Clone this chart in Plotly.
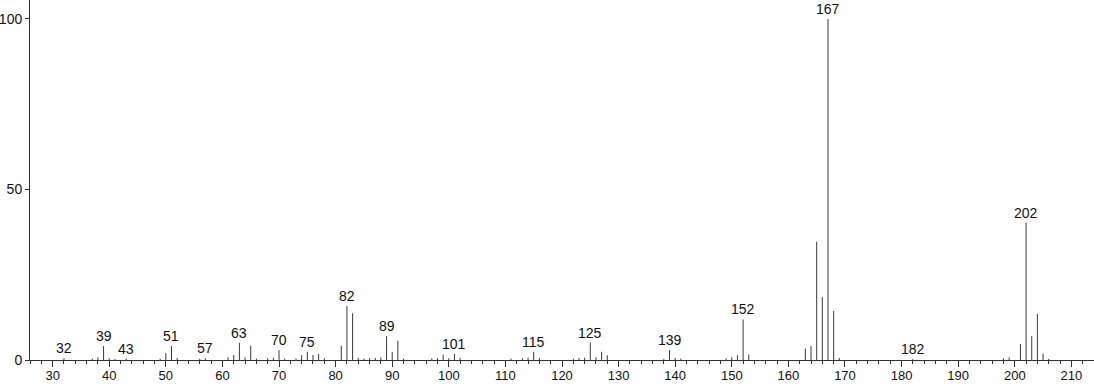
import plotly.graph_objects as go

mz = [32, 37, 38, 39, 40, 41, 43, 49, 50, 51, 52, 56, 57, 61, 62, 63, 64, 65, 66, 68, 69,
      70, 71, 73, 74, 75, 76, 77, 78, 81, 82, 83, 84, 85, 86, 87, 88, 89, 90, 91, 92,
      97, 98, 99, 100, 101, 102, 111, 113, 114, 115, 116, 122, 123, 124, 125, 126, 127, 128,
      138, 139, 140, 141, 149, 150, 151, 152, 153, 163, 164, 165, 166, 167, 168, 169,
      182, 198, 199, 201, 202, 203, 204, 205, 206]
intensity = [0.5, 0.4, 0.8, 4.1, 0.5, 0.3, 0.4, 0.4, 2.0, 4.1, 0.6, 0.4, 0.5, 0.8, 1.5, 5.1, 0.8, 4.2, 0.4, 0.5, 0.7,
             2.9, 0.4, 0.5, 1.4, 2.4, 1.5, 1.8, 0.5, 4.2, 15.8, 13.7, 0.6, 0.4, 0.5, 0.6, 0.8, 7.0, 2.4, 5.7, 0.4,
             0.5, 0.5, 1.6, 0.5, 1.8, 0.6, 0.4, 0.5, 0.7, 2.4, 0.6, 0.4, 0.6, 0.7, 5.1, 0.8, 2.4, 1.4,
             0.3, 2.9, 0.6, 0.4, 0.5, 0.8, 1.4, 11.9, 1.6, 3.4, 4.1, 34.7, 18.4, 100.0, 14.4, 0.6,
             0.3, 0.5, 0.8, 4.7, 40.3, 7.0, 13.5, 1.9, 0.3]
labeled = [32, 39, 43, 51, 57, 63, 70, 75, 82, 89, 101, 115, 125, 139, 152, 167, 182, 202]

xs, ys = [], []
for m, v in zip(mz, intensity):
    xs += [m, m, None]
    ys += [0, v, None]

fig = go.Figure()
fig.add_trace(go.Scatter(x=xs, y=ys, mode="lines",
                         line=dict(color="#3a3a3a", width=1), hoverinfo="skip",
                         showlegend=False))

lookup = dict(zip(mz, intensity))
for m in labeled:
    fig.add_annotation(x=m, y=lookup[m], text=str(m), showarrow=False,
                       yanchor="bottom", yshift=0,
                       font=dict(family="Liberation Sans, Arial, sans-serif", size=14, color="#111"))

fig.update_layout(
    width=1094, height=384,
    margin=dict(l=30, r=0, t=0, b=24, autoexpand=False),
    plot_bgcolor="white", paper_bgcolor="white",
    font=dict(family="Liberation Sans, Arial, sans-serif", size=14, color="#111"),
    xaxis=dict(range=[26, 214], tick0=30, dtick=10, ticks="outside", ticklen=6,
               tickcolor="#333", showgrid=False, zeroline=False, showline=True,
               linecolor="#333", linewidth=1, automargin=False, ticklabelstandoff=-3,
               tickfont=dict(size=13),
               minor=dict(dtick=2, tick0=30, ticks="outside", ticklen=3, tickcolor="#333", showgrid=False)),
    yaxis=dict(range=[0, 105.57], tickvals=[0, 50, 100], ticks="outside", ticklen=4,
               tickcolor="#333", showgrid=False, zeroline=False, showline=True,
               linecolor="#333", linewidth=1, automargin=False),
)

fig.write_html("out.html")
